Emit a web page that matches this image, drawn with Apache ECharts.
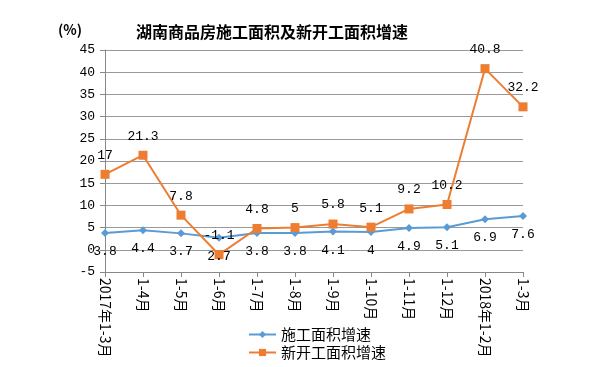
<!DOCTYPE html>
<html><head><meta charset="utf-8">
<script src="https://cdn.jsdelivr.net/npm/echarts@6/dist/echarts.min.js"></script>
<style>html,body{margin:0;padding:0;background:#fff}#c{width:609px;height:367px}</style>
</head><body><div id="c"></div>
<script>
const categories = ['2017年1-3月','1-4月','1-5月','1-6月','1-7月','1-8月','1-9月','1-10月','1-11月','1-12月','2018年1-2月','1-3月'];
const construction = [3.8, 4.4, 3.7, 2.7, 3.8, 3.8, 4.1, 4, 4.9, 5.1, 6.9, 7.6];
const newStarts = [17, 21.3, 7.8, -1.1, 4.8, 5, 5.8, 5.1, 9.2, 10.2, 40.8, 32.2];
const seriesNames = ['施工面积增速', '新开工面积增速'];
const titleText = '湖南商品房施工面积及新开工面积增速';

const numFont = '"Liberation Mono", "DejaVu Sans Mono", monospace';
const cjkFont = '"Noto Sans CJK SC", sans-serif';
const chart = echarts.init(document.getElementById('c'), null, {renderer: 'canvas'});
chart.setOption({
  animation: false,
  backgroundColor: '#fff',
  title: {
    text: titleText, left: 131, top: 19,
    textStyle: {fontSize: 16, fontWeight: 'bold', color: '#000', fontFamily: cjkFont}
  },
  graphic: [{type: 'text', left: 58, top: 23, style: {text: '(%)', fontSize: 14, fill: '#000', fontFamily: cjkFont, fontWeight: 'bold'}}],
  legend: {
    orient: 'vertical', left: 243, top: 322, itemGap: 3, itemWidth: 27, itemHeight: 9,
    textStyle: {fontSize: 15, color: '#000', fontFamily: cjkFont},
    data: seriesNames
  },
  grid: {left: 105, right: 86, top: 50, bottom: 95},
  xAxis: {
    type: 'category', data: categories, boundaryGap: false,
    axisLine: {onZero: false, lineStyle: {color: '#888'}},
    axisTick: {show: true, length: 5, lineStyle: {color: '#888'}},
    axisLabel: {rotate: -90, color: '#000', fontSize: 14, fontFamily: cjkFont, margin: 6, interval: 0}
  },
  yAxis: {
    type: 'value', min: -5, max: 45, interval: 5,
    axisLine: {show: true, lineStyle: {color: '#888'}},
    axisTick: {show: true, length: 5, lineStyle: {color: '#888'}},
    splitLine: {lineStyle: {color: '#999'}},
    axisLabel: {color: '#000', fontSize: 13, fontFamily: numFont, margin: 10}
  },
  series: [
    {
      name: seriesNames[0], type: 'line', data: construction,
      symbol: 'diamond', symbolSize: 8,
      lineStyle: {color: '#5B9BD5', width: 2}, itemStyle: {color: '#5B9BD5'},
      label: {show: true, position: 'bottom', distance: 8, color: '#000', fontSize: 13, fontFamily: numFont}
    },
    {
      name: seriesNames[1], type: 'line', data: newStarts,
      symbol: 'rect', symbolSize: 9,
      lineStyle: {color: '#ED7D31', width: 2}, itemStyle: {color: '#ED7D31'},
      label: {show: true, position: 'top', distance: 8, color: '#000', fontSize: 13, fontFamily: numFont}
    }
  ]
});
</script></body></html>
